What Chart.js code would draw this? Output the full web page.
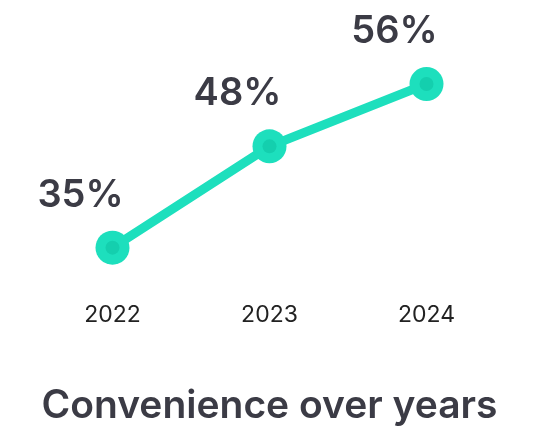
<!DOCTYPE html>
<html>
<head>
<meta charset="utf-8">
<script src="https://cdn.jsdelivr.net/npm/chart.js@4"></script>
<style>
  html, body { margin: 0; padding: 0; background: #fff; }
  #wrap { width: 534px; height: 430px; }
</style>
</head>
<body>
<div id="wrap"><canvas id="chart"></canvas></div>
<script>
const years = ["2022", "2023", "2024"];
const share = [35, 48, 56];
const shareLabels = ["35%", "48%", "56%"];

const teal = "#1ddfbd";
const tealDark = "#14cfae";
const ink = "#3b3b45";

// draws the percentage above-left of each point
const valueLabels = {
  id: "valueLabels",
  afterDatasetsDraw(chart) {
    const { ctx } = chart;
    const pts = chart.getDatasetMeta(0).data;
    ctx.save();
    ctx.font = "600 38px Inter";
    ctx.fillStyle = ink;
    ctx.textAlign = "center";
    ctx.textBaseline = "alphabetic";
    pts.forEach((p, i) => {
      ctx.fillText(shareLabels[i], p.x - 32, p.y - 41);
    });
    ctx.restore();
  }
};

const ctx = document.getElementById("chart");

new Chart(ctx, {
  type: "line",
  data: {
    labels: years,
    datasets: [
      {
        data: share,
        order: 1,
        borderColor: teal,
        borderWidth: 9,
        pointRadius: 17,
        pointBackgroundColor: teal,
        pointBorderWidth: 0,
        tension: 0
      },
      {
        data: share,
        order: 0,
        showLine: false,
        pointRadius: 7,
        pointBackgroundColor: tealDark,
        pointBorderWidth: 0
      }
    ]
  },
  options: {
    responsive: true,
    maintainAspectRatio: false,
    animation: false,
    events: [],
    layout: { padding: { top: 6, left: 34, right: 29, bottom: 0 } },
    plugins: {
      legend: { display: false },
      tooltip: { enabled: false },
      title: {
        display: true,
        position: "bottom",
        text: "Convenience over years",
        color: ink,
        font: { family: "Inter", size: 39, weight: "600" },
        padding: { top: 47, bottom: 0 }
      }
    },
    scales: {
      x: {
        offset: true,
        grid: { display: false },
        border: { display: false },
        ticks: {
          color: "#222",
          padding: 7,
          font: { family: "Inter", size: 23 }
        }
      },
      y: {
        display: false,
        min: 30,
        max: 64.6
      }
    }
  },
  plugins: [valueLabels]
});
</script>
</body>
</html>
